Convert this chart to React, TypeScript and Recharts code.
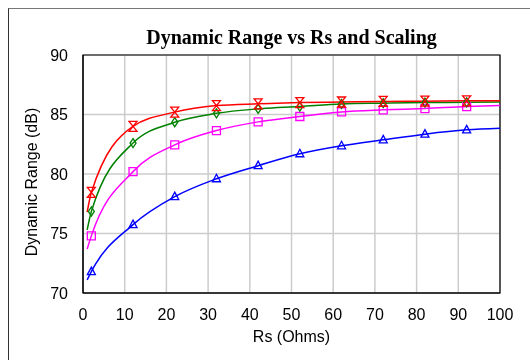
import React from 'react';
import {
  LineChart,
  Line,
  XAxis,
  YAxis,
  CartesianGrid,
  ReferenceArea,
} from 'recharts';

// Rs points: first and last only shape the curve, the rest carry markers
const rsOhms = [1, 2, 12, 22, 32, 42, 52, 62, 72, 82, 92, 100];
const redDb = [76.8, 78.45, 84.0, 85.2, 85.75, 85.9, 86.0, 86.05, 86.1, 86.12, 86.15, 86.15];
const greenDb = [75.3, 76.85, 82.6, 84.35, 85.1, 85.47, 85.67, 85.89, 85.95, 86.0, 86.02, 86.05];
const magentaDb = [73.7, 74.8, 80.2, 82.45, 83.65, 84.38, 84.83, 85.22, 85.39, 85.5, 85.67, 85.75];
const blueDb = [71.1, 71.8, 75.75, 78.1, 79.6, 80.7, 81.7, 82.37, 82.87, 83.35, 83.71, 83.85];

const xTicks = [0, 10, 20, 30, 40, 50, 60, 70, 80, 90, 100];
const yTicks = [70, 75, 80, 85, 90];

const rows = rsOhms.map((rs, i) => ({
  rs,
  red: redDb[i],
  green: greenDb[i],
  magenta: magentaDb[i],
  blue: blueDb[i],
}));

const FONT = '"Liberation Sans", Arial, sans-serif';
const last = rsOhms.length - 1;

type Shape = 'hourglass' | 'diamond' | 'square' | 'triangle';

const makeDot = (shape: Shape, color: string) => (props: any) => {
  const { cx, cy, index } = props;
  const key = `${shape}-${index}`;
  if (index === 0 || index === last || cx == null || cy == null) return <g key={key} />;
  let d = '';
  if (shape === 'hourglass') {
    d = `M${cx - 4},${cy - 5}L${cx + 4},${cy - 5}L${cx - 4},${cy + 5}L${cx + 4},${cy + 5}Z`;
  } else if (shape === 'diamond') {
    d = `M${cx},${cy - 4.5}L${cx + 3},${cy}L${cx},${cy + 4.5}L${cx - 3},${cy}Z`;
  } else if (shape === 'square') {
    d = `M${cx - 4},${cy - 4}L${cx + 4},${cy - 4}L${cx + 4},${cy + 4}L${cx - 4},${cy + 4}Z`;
  } else {
    d = `M${cx},${cy - 4.5}L${cx + 4},${cy + 3}L${cx - 4},${cy + 3}Z`;
  }
  return <path key={key} d={d} fill="none" stroke={color} strokeWidth={1.3} />;
};

const App: React.FC = () => {
  return (
    <div style={{ position: 'relative', width: 522, height: 344 }}>
      <div
        style={{
          position: 'fixed',
          left: 8,
          top: 8,
          width: 530,
          height: 360,
          borderTop: '1px solid #777',
          borderLeft: '1px solid #333',
          pointerEvents: 'none',
        }}
      />
      <div
        style={{
          position: 'absolute',
          left: 75,
          top: 19,
          width: 417,
          textAlign: 'center',
          fontFamily: '"Liberation Serif", "Times New Roman", serif',
          fontWeight: 'bold',
          fontSize: 20,
          lineHeight: '20px',
          color: '#000',
        }}
      >
        Dynamic Range vs Rs and Scaling
      </div>
      <LineChart
        width={522}
        height={344}
        data={rows}
        margin={{ top: 47, right: 30, bottom: 0, left: 0 }}
      >
        <CartesianGrid stroke="#cccccc" strokeWidth={1.5} />
        <XAxis
          dataKey="rs"
          type="number"
          domain={[0, 100]}
          ticks={xTicks}
          height={59}
          tickSize={0}
          tickMargin={16}
          tickLine={false}
          axisLine={{ stroke: '#000' }}
          tick={{ fill: '#000', fontSize: 16, fontFamily: FONT }}
          label={{
            content: (p: any) => {
              const vb = p.viewBox;
              return (
                <text
                  x={vb.x + vb.width / 2}
                  y={334}
                  textAnchor="middle"
                  fontSize={16}
                  fontFamily={FONT}
                  fill="#000"
                >
                  Rs (Ohms)
                </text>
              );
            },
          }}
        />
        <YAxis
          type="number"
          domain={[70, 90]}
          ticks={yTicks}
          width={75}
          tickSize={0}
          tickMargin={15}
          tickLine={false}
          axisLine={{ stroke: '#000' }}
          tick={{ fill: '#000', fontSize: 16, fontFamily: FONT }}
          label={{
            content: () => (
              <text
                x={23}
                y={174}
                transform="rotate(-90 23 174)"
                textAnchor="middle"
                dominantBaseline="central"
                fontSize={16}
                fontFamily={FONT}
                fill="#000"
              >
                Dynamic Range (dB)
              </text>
            ),
          }}
        />
        <ReferenceArea x1={0} x2={100} y1={70} y2={90} fill="none" stroke="#000" strokeWidth={1.2} />
        <Line
          dataKey="blue"
          type="monotone"
          stroke="#0000ff"
          strokeWidth={1.5}
          dot={makeDot('triangle', '#0000ff')}
          activeDot={false}
          isAnimationActive={false}
        />
        <Line
          dataKey="magenta"
          type="monotone"
          stroke="#ff00ff"
          strokeWidth={1.5}
          dot={makeDot('square', '#ff00ff')}
          activeDot={false}
          isAnimationActive={false}
        />
        <Line
          dataKey="green"
          type="monotone"
          stroke="#008000"
          strokeWidth={1.5}
          dot={makeDot('diamond', '#008000')}
          activeDot={false}
          isAnimationActive={false}
        />
        <Line
          dataKey="red"
          type="monotone"
          stroke="#ff0000"
          strokeWidth={1.5}
          dot={makeDot('hourglass', '#ff0000')}
          activeDot={false}
          isAnimationActive={false}
        />
      </LineChart>
    </div>
  );
};

export default App;
